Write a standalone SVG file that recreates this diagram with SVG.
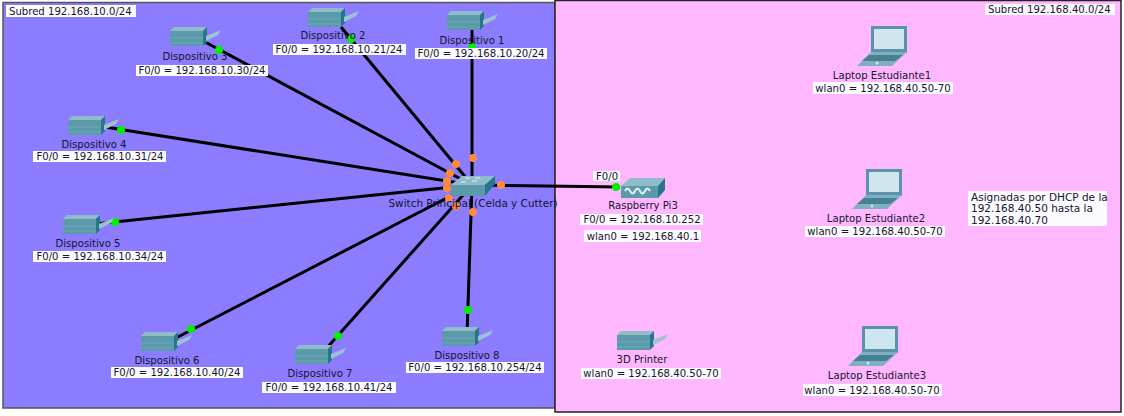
<svg xmlns="http://www.w3.org/2000/svg" width="1124" height="416" viewBox="0 0 1124 416">
<style>
text{font-family:"DejaVu Sans","Liberation Sans",sans-serif;font-size:10.1px;fill:#15152e}
.m{text-anchor:middle}
.bg{fill:#fbfbff}
.lnk{stroke:#000;stroke-width:3;fill:none}
.g{fill:#00f000}
.o{fill:#ff8a3c}
</style>
<defs>
<g id="dev">
<path d="M0 4L4 0H37L33 4Z" fill="#8fbcc8"/>
<rect x="0" y="4" width="33" height="15" fill="#5b9aab"/>
<path d="M0 11H33M0 16H33" stroke="#6ea9b8" stroke-width="1"/>
<path d="M33 4L37 0V15L33 19Z" fill="#25758c"/>
<path d="M36 9L51 3L48 8L36 14Z" fill="#9cc4cf"/>
</g>
<g id="lap">
<path d="M14 0H50V27H14Z" fill="#5b93a8"/>
<rect x="17" y="3" width="30" height="20" fill="#cfe6ee"/>
<path d="M14 26H50L35 40H0Z" fill="#7fb0bf"/>
<path d="M12 29H46L38 35H5Z" fill="#477f94"/>
<circle cx="20" cy="37" r="1.5" fill="#cfe6ee"/>
</g>
</defs>
<rect width="1124" height="416" fill="#fff"/>
<rect x="3" y="2.5" width="552" height="405.5" fill="#8c7cff" stroke="#555" stroke-width="1.5"/>
<rect x="555" y="0.5" width="566" height="411.5" fill="#ffb8ff" stroke="#222" stroke-width="1.5"/>
<g id="connectors" class="lnk">
<path d="M472 30L472 185"/>
<path d="M341 27L472 185"/>
<path d="M205 42L472 185"/>
<path d="M105 127L472 185"/>
<path d="M95 224L472 185"/>
<path d="M172 340L472 185"/>
<path d="M325 350L472 185"/>
<path d="M467 335L472 185"/>
<path d="M472 185L620 187"/>
</g>
<g id="dots">
<circle class="g" cx="472" cy="47" r="4"/><circle class="g" cx="351" cy="39" r="4"/><circle class="g" cx="219" cy="50" r="4"/><circle class="g" cx="121" cy="130" r="4"/><circle class="g" cx="115" cy="222" r="4"/><circle class="g" cx="191" cy="329" r="4"/><circle class="g" cx="338" cy="336" r="4"/><circle class="g" cx="468" cy="310" r="4"/><circle class="g" cx="616" cy="187" r="4"/>
<circle class="o" cx="473" cy="158" r="4"/><circle class="o" cx="456" cy="164" r="4"/><circle class="o" cx="450" cy="173" r="4"/><circle class="o" cx="447" cy="181" r="4"/><circle class="o" cx="447" cy="188" r="4"/><circle class="o" cx="449" cy="198" r="4"/><circle class="o" cx="456" cy="206" r="4"/><circle class="o" cx="473" cy="212" r="4"/><circle class="o" cx="501" cy="185" r="4"/>
</g>
<g id="switch">
<path d="M451 185L462 176H495L485 185Z" fill="#8fbcc8"/>
<rect x="451" y="185" width="34" height="11" fill="#5b9aab"/>
<path d="M485 185L495 176V184L485 196Z" fill="#25758c"/>
<path d="M465 178h5M475 178h5M461 182h5M472 181h5" stroke="#e5f0f3"/>
<text class="m" x="473" y="207" style="font-size:10.45px">Switch Principal (Celda y Cutter)</text>
</g>
<g id="subred10"><rect class="bg" x="6" y="5" width="130" height="12"/><text x="9" y="15">Subred 192.168.10.0/24</text></g>
<g id="subred40"><rect class="bg" x="985" y="4" width="130" height="11"/><text x="988" y="13">Subred 192.168.40.0/24</text></g>
<g id="d1"><use href="#dev" x="447" y="11"/><text class="m" x="472" y="44">Dispositivo 1</text><rect class="bg" x="415" y="48" width="132" height="11"/><text class="m" x="481" y="57">F0/0 = 192.168.10.20/24</text></g>
<g id="d2"><use href="#dev" x="308" y="8"/><text class="m" x="333" y="39">Dispositivo 2</text><rect class="bg" x="273" y="44" width="133" height="11"/><text class="m" x="339" y="53">F0/0 = 192.168.10.21/24</text></g>
<g id="d3"><use href="#dev" x="170" y="27"/><text class="m" x="195" y="60">Dispositivo 3</text><rect class="bg" x="136" y="65" width="132" height="11"/><text class="m" x="202" y="74">F0/0 = 192.168.10.30/24</text></g>
<g id="d4"><use href="#dev" x="68" y="116"/><text class="m" x="94" y="148">Dispositivo 4</text><rect class="bg" x="33" y="151" width="133" height="11"/><text class="m" x="100" y="160">F0/0 = 192.168.10.31/24</text></g>
<g id="d5"><use href="#dev" x="63" y="215"/><text class="m" x="88" y="247">Dispositivo 5</text><rect class="bg" x="33" y="251" width="133" height="11"/><text class="m" x="100" y="260">F0/0 = 192.168.10.34/24</text></g>
<g id="d6"><use href="#dev" x="141" y="332"/><text class="m" x="167" y="364">Dispositivo 6</text><rect class="bg" x="111" y="367" width="132" height="11"/><text class="m" x="177" y="376">F0/0 = 192.168.10.40/24</text></g>
<g id="d7"><use href="#dev" x="295" y="345"/><text class="m" x="320" y="377">Dispositivo 7</text><rect class="bg" x="262" y="382" width="134" height="11"/><text class="m" x="329" y="391">F0/0 = 192.168.10.41/24</text></g>
<g id="d8"><use href="#dev" x="442" y="327"/><text class="m" x="467" y="359">Dispositivo 8</text><rect class="bg" x="406" y="362" width="138" height="11"/><text class="m" x="475" y="371">F0/0 = 192.168.10.254/24</text></g>
<g id="pi">
<path d="M621 186L630 178H665L658 186Z" fill="#8fbcc8"/>
<rect x="621" y="186" width="37" height="12" fill="#5b9aab"/>
<path d="M658 186L665 178V190L658 198Z" fill="#25758c"/>
<path d="M625 191q2.500-5 5 0t5 0 5 0 5 0 5 0" stroke="#e5f0f3" fill="none" stroke-width="2"/>
<rect class="bg" x="593" y="171" width="27" height="10"/><text x="596" y="180">F0/0</text>
<text class="m" x="643" y="209">Raspberry Pi3</text>
<rect class="bg" x="580" y="214" width="123" height="11"/><text class="m" x="642" y="223">F0/0 = 192.168.10.252</text>
<rect class="bg" x="584" y="230" width="117" height="12"/><text class="m" x="643" y="240">wlan0 = 192.168.40.1</text>
</g>
<g id="printer"><use href="#dev" x="617" y="331"/><text class="m" x="642" y="363">3D Printer</text><rect class="bg" x="581" y="368" width="140" height="11"/><text class="m" x="651" y="377">wlan0 = 192.168.40.50-70</text></g>
<g id="l1"><use href="#lap" x="857" y="26"/><text class="m" x="882" y="79">Laptop Estudiante1</text><rect class="bg" x="813" y="82" width="140" height="12"/><text class="m" x="883" y="92">wlan0 = 192.168.40.50-70</text></g>
<g id="l2"><use href="#lap" x="852" y="169"/><text class="m" x="876" y="222">Laptop Estudiante2</text><rect class="bg" x="805" y="226" width="140" height="11"/><text class="m" x="875" y="235">wlan0 = 192.168.40.50-70</text></g>
<g id="l3"><use href="#lap" x="848" y="326"/><text class="m" x="877" y="379">Laptop Estudiante3</text><rect class="bg" x="803" y="384" width="139" height="12"/><text class="m" x="872" y="394">wlan0 = 192.168.40.50-70</text></g>
<g id="note" style="font-size:10.5px"><rect class="bg" x="968" y="191" width="139" height="35"/><text x="971" y="201" style="font-size:10.5px">Asignadas por DHCP de la</text><text x="971" y="212" style="font-size:10.5px">192.168.40.50 hasta la</text><text x="971" y="224" style="font-size:10.5px">192.168.40.70</text></g>
</svg>
